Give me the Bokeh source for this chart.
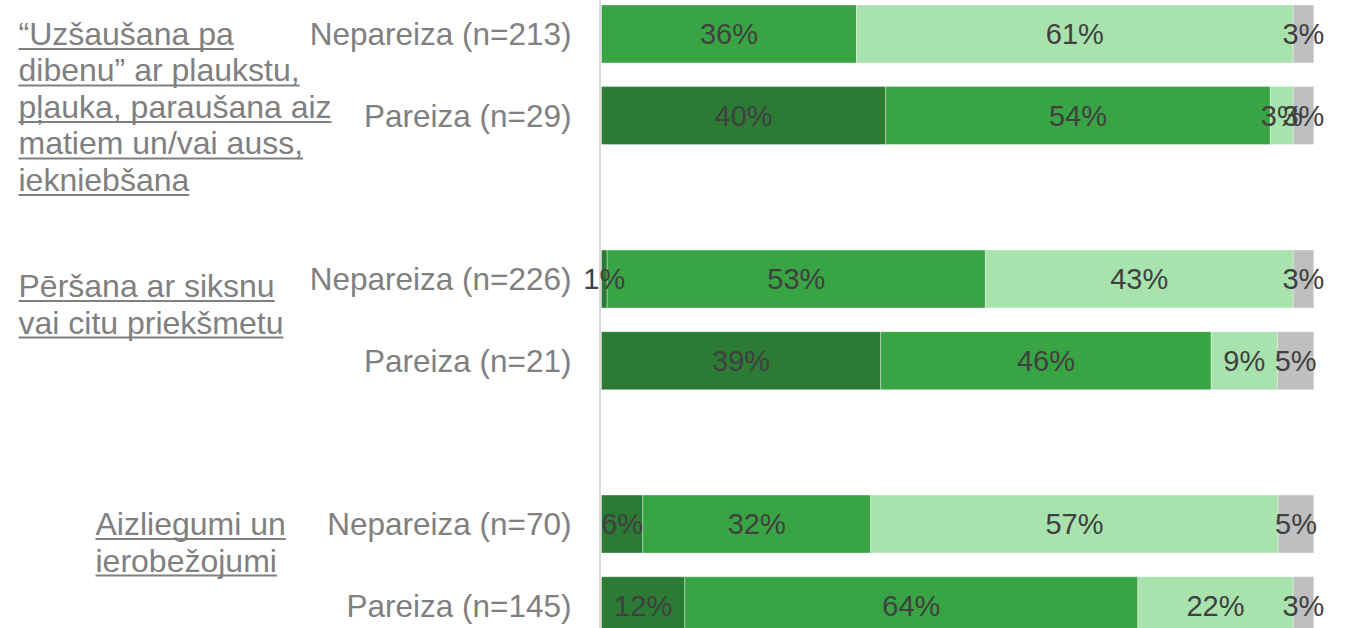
from bokeh.plotting import figure
from bokeh.models import Range1d, Span, ColumnDataSource
from bokeh.core.properties import value
from bokeh.embed import file_html
from bokeh.resources import INLINE

# ---------------- data ----------------
group_lines = [
    ["“Uzšaušana pa", "dibenu” ar plaukstu,", "pļauka, paraušana aiz", "matiem un/vai auss,", "iekniebšana"],
    ["Pēršana ar siksnu", "vai citu priekšmetu"],
    ["Aizliegumi un", "ierobežojumi"],
]
rows = ["Nepareiza (n=213)", "Pareiza (n=29)",
        "Nepareiza (n=226)", "Pareiza (n=21)",
        "Nepareiza (n=70)", "Pareiza (n=145)"]
row_group = [0, 0, 1, 1, 2, 2]
row_within = [0, 1, 0, 1, 0, 1]

seg1 = [0.0, 39.9, 0.8, 39.2, 5.8, 11.7]    # dark green
seg2 = [35.8, 54.0, 53.1, 46.4, 32.0, 63.6]  # green
seg3 = [61.3, 3.2, 43.2, 9.3, 57.2, 21.8]    # light green
seg4 = [2.9, 2.9, 2.9, 5.1, 5.0, 2.9]        # gray

# ---------------- style / layout ----------------
colors = ["#2b7b35", "#38a443", "#a8e3ae", "#bfbfbf"]
FONT = "Liberation Sans"
W, H = 1362, 628
X0, X1 = -84.37, 106.84
Y_TOP, Y_BOT = -0.409, 7.278
ppu_x = W / (X1 - X0)
ppu_y = H / (Y_BOT - Y_TOP)

p = figure(width=W, height=H, output_backend="svg", toolbar_location=None,
           x_range=Range1d(X0, X1), y_range=Range1d(Y_BOT, Y_TOP),
           x_axis_location=None, y_axis_location=None, min_border=0)
p.outline_line_color = None
p.xgrid.grid_line_color = None
p.ygrid.grid_line_color = None
p.background_fill_color = "white"

pos = [g * 3 + w for g, w in zip(row_group, row_within)]

p.add_layout(Span(location=-1.5 / ppu_x, dimension="height", line_color="#d9d9d9",
                  line_width=2, level="underlay"))

segs = [seg1, seg2, seg3, seg4]
lefts = [0.0] * len(rows)
tx, ty, tt = [], [], []
for k, s in enumerate(segs):
    rights = [l + v for l, v in zip(lefts, s)]
    src = ColumnDataSource(dict(y=pos, left=lefts, right=rights))
    p.hbar(y="y", left="left", right="right", height=0.71, source=src,
           fill_color=colors[k], line_color="white", line_alpha=0.35, line_width=1)
    for l, r, v, y in zip(lefts, rights, s, pos):
        if v > 0:
            tx.append((l + r) / 2)
            ty.append(y)
            tt.append(f"{round(v)}%")
    lefts = rights

p.text(x=tx, y=ty, text=tt, text_align="center", text_baseline="middle",
       text_font=value(FONT), text_font_size="29px", text_color="#404040")

# row labels
p.text(x=[0] * len(rows), y=pos, text=rows, x_offset=-30, text_align="right",
       text_baseline="middle", text_font=value(FONT), text_font_size="31.5px",
       text_color="#808080")

# group labels (underlined)
cw = {' ': 278, ',': 278, '/': 278, '“': 333, '”': 333, 'A': 667, 'P': 667, 'U': 722,
      'a': 556, 'b': 556, 'c': 500, 'd': 556, 'e': 556, 'f': 278, 'g': 556, 'h': 556,
      'i': 222, 'j': 222, 'k': 500, 'l': 222, 'm': 833, 'n': 556, 'o': 556, 'p': 556,
      'q': 556, 'r': 333, 's': 500, 't': 278, 'u': 556, 'v': 500, 'w': 722, 'x': 500,
      'y': 500, 'z': 500, 'š': 500, 'ž': 500, 'ē': 556, 'ļ': 222, 'ā': 556, 'ī': 278,
      'ū': 556}
gsize = 32
group_left_px = [18, 18, 95]
group_dy_px = [0, 7, 0]
line_step = 36.5 / ppu_y
gx, gy, gt, ux0, ux1, uy = [], [], [], [], [], []
for g, lines in enumerate(group_lines):
    first = pos[row_group.index(g)] + group_dy_px[g] / ppu_y
    x = X0 + group_left_px[g] / ppu_x
    for k, line in enumerate(lines):
        y = first + k * line_step
        gx.append(x)
        gy.append(y)
        gt.append(line)
        wpx = sum(cw.get(c, 556) for c in line) * gsize / 1000
        ux0.append(x)
        ux1.append(x + wpx / ppu_x)
        uy.append(y + 15 / ppu_y)

p.text(x=gx, y=gy, text=gt, text_align="left", text_baseline="middle",
       text_font=value(FONT), text_font_size=f"{gsize}px", text_color="#808080")
p.segment(x0=ux0, y0=uy, x1=ux1, y1=uy, line_color="#808080", line_width=2)

open("out.html", "w").write(file_html(p, INLINE))
